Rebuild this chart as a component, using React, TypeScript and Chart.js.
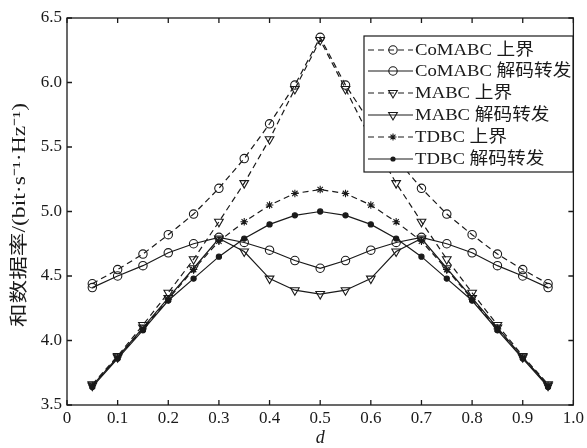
import React, { useEffect, useRef } from "react";
import { Chart, registerables } from "chart.js";

Chart.register(...registerables);

const dValues = [0.05, 0.1, 0.15, 0.2, 0.25, 0.3, 0.35, 0.4, 0.45, 0.5, 0.55, 0.6, 0.65, 0.7, 0.75, 0.8, 0.85, 0.9, 0.95];
const coMabcUpper = [4.44, 4.55, 4.67, 4.82, 4.98, 5.18, 5.41, 5.68, 5.98, 6.35, 5.98, 5.68, 5.41, 5.18, 4.98, 4.82, 4.67, 4.55, 4.44];
const coMabcDecode = [4.41, 4.50, 4.58, 4.68, 4.75, 4.80, 4.76, 4.70, 4.62, 4.56, 4.62, 4.70, 4.76, 4.80, 4.75, 4.68, 4.58, 4.50, 4.41];
const mabcUpper = [3.66, 3.88, 4.12, 4.37, 4.63, 4.92, 5.22, 5.56, 5.95, 6.33, 5.95, 5.56, 5.22, 4.92, 4.63, 4.37, 4.12, 3.88, 3.66];
const mabcDecode = [3.65, 3.87, 4.10, 4.33, 4.56, 4.79, 4.69, 4.48, 4.39, 4.36, 4.39, 4.48, 4.69, 4.79, 4.56, 4.33, 4.10, 3.87, 3.65];
const tdbcUpper = [3.65, 3.87, 4.09, 4.32, 4.55, 4.77, 4.92, 5.05, 5.14, 5.17, 5.14, 5.05, 4.92, 4.77, 4.55, 4.32, 4.09, 3.87, 3.65];
const tdbcDecode = [3.64, 3.86, 4.08, 4.31, 4.48, 4.65, 4.79, 4.90, 4.97, 5.00, 4.97, 4.90, 4.79, 4.65, 4.48, 4.31, 4.08, 3.86, 3.64];

const seriesLabels = ["CoMABC 上界", "CoMABC 解码转发", "MABC 上界", "MABC 解码转发", "TDBC 上界", "TDBC 解码转发"];
const xTickValues = [0, 0.1, 0.2, 0.3, 0.4, 0.5, 0.6, 0.7, 0.8, 0.9, 1.0];
const xTickLabels = ["0", "0.1", "0.2", "0.3", "0.4", "0.5", "0.6", "0.7", "0.8", "0.9", "1.0"];
const yTickValues = [3.5, 4.0, 4.5, 5.0, 5.5, 6.0, 6.5];
const yTickLabels = ["3.5", "4.0", "4.5", "5.0", "5.5", "6.0", "6.5"];
const yTitle = "和数据率/(bit·s⁻¹·Hz⁻¹)";
const xTitle = "d";

const INK = "#1a1a1a";
const DASH = [6, 4];
const SERIF = "'Liberation Serif', 'DejaVu Serif', serif";
const LEGEND_FONT = "17px 'Liberation Serif', 'Noto Sans CJK SC', serif";

type MarkerKind = "circle" | "tri" | "star" | "dot";
const markerKinds: MarkerKind[] = ["circle", "circle", "tri", "tri", "star", "dot"];
const dashed = [true, false, true, false, true, false];
const seriesData = [coMabcUpper, coMabcDecode, mabcUpper, mabcDecode, tdbcUpper, tdbcDecode];

function drawMarker(ctx: CanvasRenderingContext2D, kind: MarkerKind, x: number, y: number) {
  ctx.save();
  ctx.setLineDash([]);
  ctx.strokeStyle = INK;
  ctx.fillStyle = INK;
  ctx.lineWidth = 1.1;
  ctx.beginPath();
  if (kind === "circle") {
    ctx.arc(x, y, 4.2, 0, Math.PI * 2);
    ctx.stroke();
  } else if (kind === "tri") {
    const r = 5;
    ctx.moveTo(x - r * 0.87, y - r * 0.5);
    ctx.lineTo(x + r * 0.87, y - r * 0.5);
    ctx.lineTo(x, y + r);
    ctx.closePath();
    ctx.stroke();
  } else if (kind === "star") {
    const r = 3.5;
    for (let i = 0; i < 4; i++) {
      const a = (i * Math.PI) / 4;
      ctx.moveTo(x - r * Math.cos(a), y - r * Math.sin(a));
      ctx.lineTo(x + r * Math.cos(a), y + r * Math.sin(a));
    }
    ctx.stroke();
  } else {
    ctx.arc(x, y, 2.6, 0, Math.PI * 2);
    ctx.fill();
  }
  ctx.restore();
}

const framePlugin = {
  id: "frameAndLegend",
  afterDraw(chart: any) {
    const ctx: CanvasRenderingContext2D = chart.ctx;
    const { left, right, top, bottom } = chart.chartArea;
    const xs = chart.scales.x;
    const ys = chart.scales.y;
    ctx.save();
    ctx.strokeStyle = INK;
    ctx.lineWidth = 1.3;
    ctx.setLineDash([]);
    ctx.strokeRect(left, top, right - left, bottom - top);
    const tl = 5;
    ctx.beginPath();
    for (const v of xTickValues) {
      const px = xs.getPixelForValue(v);
      ctx.moveTo(px, bottom);
      ctx.lineTo(px, bottom - tl);
      ctx.moveTo(px, top);
      ctx.lineTo(px, top + tl);
    }
    for (const v of yTickValues) {
      const py = ys.getPixelForValue(v);
      ctx.moveTo(left, py);
      ctx.lineTo(left + tl, py);
      ctx.moveTo(right, py);
      ctx.lineTo(right - tl, py);
    }
    ctx.stroke();

    // axis titles
    ctx.fillStyle = INK;
    ctx.font = "18px 'Liberation Serif', 'Noto Sans CJK SC', serif";
    ctx.textAlign = "center";
    ctx.textBaseline = "middle";
    ctx.save();
    ctx.translate(20, 215);
    ctx.rotate(-Math.PI / 2);
    const w = ctx.measureText(yTitle).width;
    const target = 224;
    ctx.scale(target / w, 1);
    ctx.fillText(yTitle, 0, 0);
    ctx.restore();
    ctx.font = "italic 18px " + SERIF;
    ctx.fillText(xTitle, (left + right) / 2, 438);

    // legend
    const bx = 364, by = 36, bw = 209, bh = 136;
    ctx.fillStyle = "#fff";
    ctx.fillRect(bx, by, bw, bh);
    ctx.strokeStyle = INK;
    ctx.lineWidth = 1.2;
    ctx.strokeRect(bx, by, bw, bh);
    const rowY = [50, 71, 93, 115, 137, 159];
    ctx.font = LEGEND_FONT;
    ctx.textAlign = "left";
    ctx.textBaseline = "middle";
    for (let i = 0; i < seriesLabels.length; i++) {
      const y = rowY[i];
      ctx.save();
      ctx.lineWidth = 1.2;
      ctx.setLineDash(dashed[i] ? [6, 4] : []);
      ctx.beginPath();
      ctx.moveTo(368, y);
      ctx.lineTo(413, y);
      ctx.stroke();
      ctx.restore();
      drawMarker(ctx, markerKinds[i], 393, y);
      ctx.save();
      ctx.fillStyle = INK;
      ctx.translate(415, y + 1);
      ctx.scale(1.1, 1);
      ctx.fillText(seriesLabels[i], 0, 0);
      ctx.restore();
    }
    ctx.restore();
  },
};

function pointStyleFor(kind: MarkerKind): any {
  if (kind === "tri") return "triangle";
  if (kind === "star") return "star";
  return "circle";
}

export default function App() {
  const canvasRef = useRef<HTMLCanvasElement | null>(null);
  useEffect(() => {
    if (!canvasRef.current) return;
    const datasets = seriesData.map((vals, i) => {
      const kind = markerKinds[i];
      return {
        label: seriesLabels[i],
        data: dValues.map((d, j) => ({ x: d, y: vals[j] })),
        borderColor: INK,
        borderWidth: 1.2,
        borderDash: dashed[i] ? DASH : [],
        pointStyle: pointStyleFor(kind),
        pointRotation: kind === "tri" ? 180 : 0,
        pointRadius: kind === "dot" ? 2.6 : kind === "tri" ? 5 : kind === "star" ? 3.8 : 4.2,
        pointBorderWidth: 1.1,
        pointBorderColor: INK,
        pointBackgroundColor: kind === "dot" ? INK : "rgba(0,0,0,0)",
        fill: false,
        tension: 0,
      };
    });
    const chart = new Chart(canvasRef.current, {
      type: "line",
      data: { datasets },
      options: {
        animation: false,
        responsive: false,
        maintainAspectRatio: false,
        layout: { padding: { left: 0, right: 11, top: 18, bottom: 0 } },
        plugins: { legend: { display: false }, tooltip: { enabled: false } },
        scales: {
          x: {
            type: "linear",
            min: 0,
            max: 1,
            afterFit: (s: any) => { s.height = 43; },
            afterBuildTicks: (s: any) => { s.ticks = xTickValues.map((v) => ({ value: v })); },
            grid: { display: false, drawTicks: false },
            border: { display: false },
            ticks: {
              padding: 3,
              color: INK,
              font: { family: SERIF, size: 17 },
              callback: (_v: any, idx: number) => xTickLabels[idx],
            },
          },
          y: {
            type: "linear",
            min: 3.5,
            max: 6.5,
            afterFit: (s: any) => { s.width = 67; },
            afterBuildTicks: (s: any) => { s.ticks = yTickValues.map((v) => ({ value: v })); },
            grid: { display: false, drawTicks: false },
            border: { display: false },
            ticks: {
              padding: 5,
              color: INK,
              font: { family: SERIF, size: 17 },
              callback: (_v: any, idx: number) => yTickLabels[idx],
            },
          },
        },
      },
      plugins: [framePlugin],
    });
    return () => chart.destroy();
  }, []);
  return (
    <div style={{ position: "fixed", left: 0, top: 0, width: 587, height: 448, background: "#fff" }}>
      <canvas ref={canvasRef} width={587} height={448} style={{ width: 587, height: 448, display: "block" }} />
    </div>
  );
}
